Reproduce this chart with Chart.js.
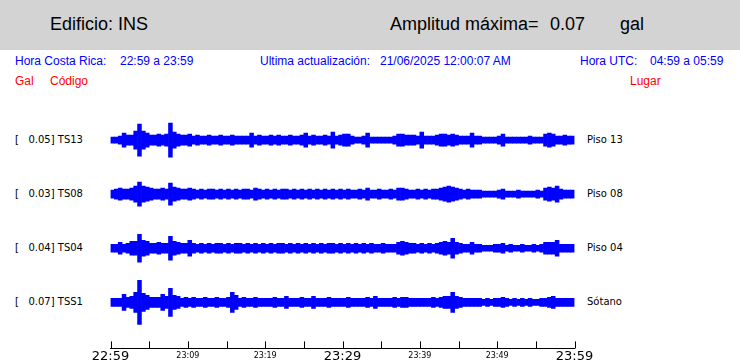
<!DOCTYPE html>
<html>
<head>
<meta charset="utf-8">
<script src="https://cdn.jsdelivr.net/npm/chart.js@4/dist/chart.umd.min.js"></script>
<style>
  html, body { margin: 0; padding: 0; width: 740px; height: 363px; overflow: hidden; background: #fff; }
  .t { position: absolute; white-space: pre; line-height: 1; }
  .hdr { font-family: "Liberation Sans", Arial, sans-serif; font-size: 18px; color: #000; }
  .info { font-family: "Liberation Sans", Arial, sans-serif; font-size: 12px; }
  .blue { color: #0000ff; }
  .red { color: #ff0000; }
  .lbl { font-family: "DejaVu Sans", sans-serif; font-size: 10px; color: #000; }
  #top { position: absolute; left: 0; top: 0; width: 740px; height: 50px; background: #d3d3d3; }
  #wrap { position: absolute; left: 0; top: 100px; width: 740px; height: 264px; }
</style>
</head>
<body>
<div id="top"></div>
<div class="t hdr" style="left:50px;top:15px">Edificio: INS</div>
<div class="t hdr" style="left:390px;top:15px">Amplitud máxima=</div>
<div class="t hdr" style="left:550px;top:15px">0.07</div>
<div class="t hdr" style="left:620px;top:15px">gal</div>

<div class="t info blue" style="left:15px;top:55px">Hora Costa Rica:</div>
<div class="t info blue" style="left:120px;top:55px">22:59 a 23:59</div>
<div class="t info blue" style="left:260px;top:55px">Ultima actualización:</div>
<div class="t info blue" style="left:380px;top:55px">21/06/2025 12:00:07 AM</div>
<div class="t info blue" style="left:580px;top:55px">Hora UTC:</div>
<div class="t info blue" style="left:650px;top:55px">04:59 a 05:59</div>
<div class="t info red" style="left:15px;top:75px">Gal</div>
<div class="t info red" style="left:50px;top:75px">Código</div>
<div class="t info red" style="left:630px;top:75px">Lugar</div>

<div id="labels"></div>
<div id="wrap"><canvas id="sismo"></canvas></div>

<script>
// estaciones (de arriba hacia abajo)
var codes = ['TS13', 'TS08', 'TS04', 'TSS1'];
var places = ['Piso 13', 'Piso 08', 'Piso 04', 'Sótano'];
var maxGal = ['0.05', '0.03', '0.04', '0.07'];
var tickLabels = ['22:59', '23:09', '23:19', '23:29', '23:39', '23:49', '23:59'];

// envolvente de amplitud, un valor cada 30 s (120 por traza)
var ts13 = [3,3,4,7,5,5,9,16,9,7, 5,5,6,5,6,17,8,6,5,5, 6,4,5,4,4,5,4,4,5,4, 4,5,4,4,4,4,7,4,5,4,
            4,5,4,5,4,4,5,4,4,5, 7,4,5,4,4,5,4,8,4,5, 6,6,4,3,3,4,7,3,3,3, 3,3,3,4,6,6,5,5,5,4,
            8,4,4,4,5,6,6,5,6,5, 4,4,4,7,4,4,3,3,3,3, 4,6,3,3,3,3,3,3,4,3, 3,3,6,7,6,4,4,5,4,4];
var ts08 = [4,5,6,5,5,6,8,12,8,7, 6,5,5,6,5,11,7,6,5,5, 6,5,4,5,4,5,5,4,5,4, 5,4,5,4,5,5,4,6,5,4,
            5,4,5,4,5,5,4,5,4,5, 4,5,4,5,4,5,4,5,4,5, 4,5,4,4,5,4,6,4,4,5, 4,4,5,4,6,6,5,4,4,5,
            4,5,4,5,5,6,7,8,7,6, 5,4,5,4,4,4,3,3,3,3, 4,5,3,3,3,4,3,3,3,3, 4,3,6,7,6,8,5,4,4,4];
var ts04 = [4,4,6,4,5,7,7,14,8,7, 5,5,6,5,5,12,7,6,5,5, 8,5,4,5,4,5,4,5,5,4, 5,4,5,5,4,5,4,5,4,5,
            4,5,4,5,5,4,5,4,5,4, 5,4,5,4,5,4,5,5,4,5, 4,5,4,5,4,5,4,5,4,4, 5,4,4,4,6,7,6,5,5,4,
            5,4,5,4,5,6,7,6,10,6, 5,4,4,6,4,4,3,3,3,4, 4,5,3,4,3,3,4,3,3,4, 3,4,6,6,6,8,4,4,4,4];
var tss1 = [4,4,4,8,5,6,10,22,9,7, 5,5,5,8,6,14,7,6,4,5, 4,5,4,4,5,4,4,5,4,4, 5,10,7,4,5,4,4,5,4,4,
            4,4,5,4,4,6,4,4,4,5, 4,4,6,4,4,4,5,4,4,4, 4,5,4,4,4,4,5,4,6,4, 4,4,4,5,4,5,5,4,4,4,
            4,4,4,5,4,5,6,6,10,6, 5,4,4,4,4,4,3,4,3,4, 4,5,4,3,4,3,4,3,4,3, 3,4,4,5,6,4,4,4,4,4];

var traces = [ts13, ts08, ts04, tss1];
var binMin = 0.5;

function baseOf(k) {
    return 46 + 54 * (3 - k);
}

function buildBars(env, base) {
    var out = [];
    for (var i = 0; i < env.length; i++) {
        out.push({ x: i * binMin + binMin / 2, y: [base - env[i], base + env[i]] });
    }
    return out;
}

// etiquetas a la izquierda y derecha
var lab = document.getElementById('labels');
for (var k = 0; k < codes.length; k++) {
    var yc = 348 - baseOf(k);
    lab.insertAdjacentHTML('beforeend',
        '<div class="t lbl" style="left:15px;top:' + (yc - 5) + 'px">[   ' + maxGal[k] + '] ' + codes[k] + '</div>' +
        '<div class="t lbl" style="left:587px;top:' + (yc - 5) + 'px">' + places[k] + '</div>');
}

var upTicks = {
    id: 'upTicks',
    afterDraw: function(chart) {
        var sx = chart.scales.x;
        var ctx = chart.ctx;
        var y0 = chart.chartArea.bottom;
        ctx.save();
        ctx.strokeStyle = '#000';
        ctx.lineWidth = 1;
        sx.ticks.forEach(function(t) {
            var px = Math.round(sx.getPixelForValue(t.value)) + 0.5;
            ctx.beginPath();
            ctx.moveTo(px, y0);
            ctx.lineTo(px, y0 - 7);
            ctx.stroke();
        });
        ctx.restore();
    }
};

var datasets = traces.map(function(env, k) {
    return {
        label: codes[k],
        data: buildBars(env, baseOf(k)),
        backgroundColor: '#0000ff',
        borderWidth: 0,
        grouped: false,
        barPercentage: 1,
        categoryPercentage: 1
    };
});

new Chart(document.getElementById('sismo'), {
    type: 'bar',
    data: { datasets: datasets },
    plugins: [upTicks],
    options: {
        responsive: true,
        maintainAspectRatio: false,
        animation: false,
        events: [],
        layout: { padding: { left: 110.5, right: 165.5, top: 0, bottom: 0 } },
        plugins: { legend: { display: false }, tooltip: { enabled: false } },
        scales: {
            x: {
                type: 'linear',
                offset: false,
                min: 0,
                max: 60,
                grid: { display: false, drawTicks: false },
                border: { display: true, color: '#000', width: 1 },
                ticks: {
                    stepSize: 5,
                    autoSkip: false,
                    maxRotation: 0,
                    padding: 0,
                    color: '#000',
                    font: function(c) {
                        var v = c.tick ? c.tick.value : 0;
                        if (v % 30 === 0) return { family: 'DejaVu Sans', size: 13, lineHeight: 1.2 };
                        return { family: 'DejaVu Sans', size: 8, lineHeight: 1.95 };
                    },
                    callback: function(v) {
                        return v % 10 === 0 ? tickLabels[v / 10] : '';
                    }
                }
            },
            y: { display: false, min: 0, max: 248 }
        }
    }
});
</script>
</body>
</html>
